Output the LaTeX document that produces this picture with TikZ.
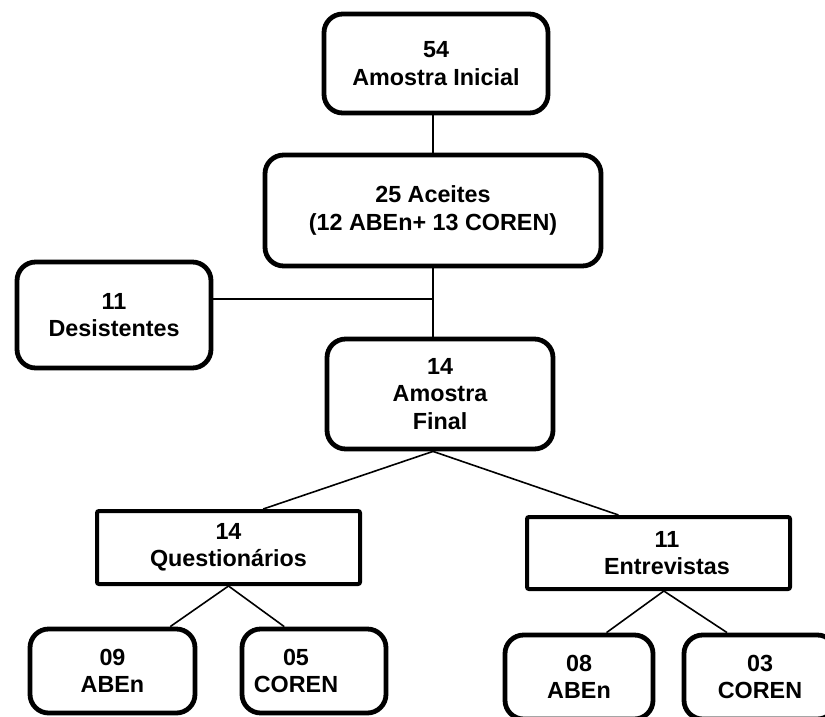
\documentclass[tikz,border=0pt]{standalone}
\usepackage{fontspec}
\setmainfont{Liberation Sans}
\usepackage{tikz}
\usetikzlibrary{calc}

\begin{document}
\begin{tikzpicture}[x=0.75pt,y=0.75pt,yscale=-1,xscale=1,
  rbox/.style={draw, line width=3.6pt, rounded corners=14pt, align=center, inner sep=0pt,
    font=\fontsize{17.5}{20.5}\selectfont\bfseries},
  sbox/.style={draw, line width=3pt, rounded corners=1.5pt, align=center, inner sep=0pt,
    font=\fontsize{17.5}{20.5}\selectfont\bfseries},
  link/.style={line width=1.2pt}]
%set diagram size 825 x 717
\useasboundingbox (0,0) rectangle (825,717);
\clip (0,0) rectangle (825,717);

%Rounded Rect
\node[rbox, minimum width=168pt, minimum height=74.25pt] (ini) at (436,63.5) {54\\Amostra Inicial};
%Rounded Rect
\node[rbox, minimum width=252pt, minimum height=83.25pt] (ace) at (433,210.5) {25 Aceites\\(12 ABEn+ 13 COREN)};
%Rounded Rect
\node[rbox, minimum width=145.5pt, minimum height=79.5pt] (des) at (114,315) {11\\Desistentes};
%Rounded Rect
\node[rbox, minimum width=169.5pt, minimum height=82.5pt] (fin) at (440,394) {14\\Amostra\\Final};

%Shape: Rectangle
\node[sbox, minimum width=197.25pt, minimum height=54.75pt] (que) at (228.5,547.5) {14\\Questionários};
%Shape: Rectangle
\node[sbox, minimum width=197.25pt, minimum height=54pt] (ent) at (658.5,553) {\hspace*{12.8pt}11\\\hspace*{12.8pt}Entrevistas};

%Rounded Rect
\node[rbox, minimum width=123.75pt, minimum height=63pt] (qabe) at (112.5,671) {09\\ABEn};
%Rounded Rect
\node[rbox, minimum width=108pt, minimum height=63pt] (qcor) at (314,671) {\hspace*{-27pt}05\\\hspace*{-27pt}COREN};
%Rounded Rect
\node[rbox, minimum width=111pt, minimum height=63pt] (eabe) at (579,677) {08\\ABEn};
%Rounded Rect
\node[rbox, minimum width=114pt, minimum height=63pt] (ecor) at (760,677) {03\\COREN};

%Straight Lines
\draw[link] (ace.north) -- (ace.north |- ini.south);
\draw[link] (ace.south) -- (ace.south |- fin.north);
\coordinate (jn) at (ace.south |- 0,299);
\draw[link] (des.east |- jn) -- (jn);

%Straight Lines
\coordinate (fb) at (ace.south |- fin.south);
\draw[link] (fb) -- ($(que.north west)!0.63!(que.north east)$);
\draw[link] (fb) -- ($(ent.north west)!0.35!(ent.north east)$);

%Straight Lines
\draw[link] (que.south) -- ($(qabe.north west)!0.84!(qabe.north east)$);
\draw[link] (que.south) -- ($(qcor.north west)!0.30!(qcor.north east)$);

%Straight Lines
\coordinate (eb) at ($(ent.south west)!0.52!(ent.south east)$);
\draw[link] (eb) -- ($(eabe.north west)!0.68!(eabe.north east)$);
\draw[link] (eb) -- ($(ecor.north west)!0.29!(ecor.north east)$);

\end{tikzpicture}
\end{document}
